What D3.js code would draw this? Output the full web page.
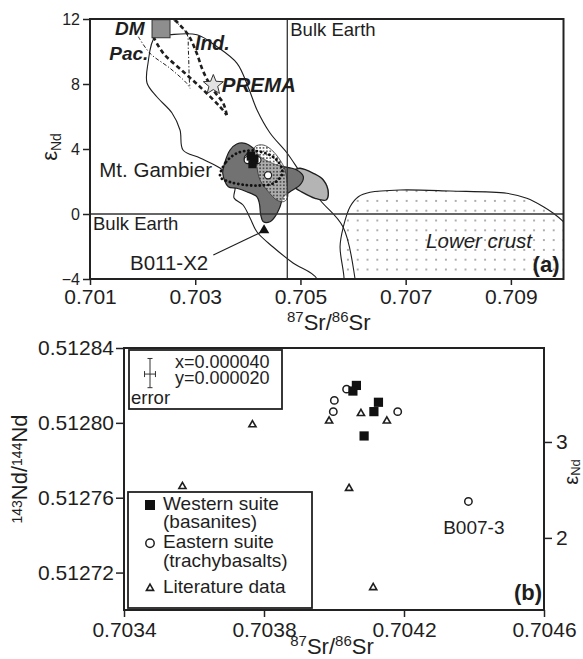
<!DOCTYPE html>
<html><head><meta charset="utf-8">
<script src="https://cdn.jsdelivr.net/npm/d3@7"></script>
<style>
body{margin:0;background:#fff}
svg{display:block}
text{font-family:"Liberation Sans",Arial,Helvetica,sans-serif;fill:#1e1e1e}
</style>
</head><body>
<svg id="c" width="583" height="659"></svg>
<script>
// ---------------- DATA ----------------
// Panel (b): 87Sr/86Sr vs 143Nd/144Nd
const westernSr = [0.704064, 0.704054, 0.704127, 0.704114, 0.704086];
const westernNd = [0.512820, 0.512817, 0.512811, 0.512806, 0.512793];
const easternSr = [0.704036, 0.704001, 0.703998, 0.704182, 0.704384];
const easternNd = [0.512818, 0.512812, 0.512806, 0.512806, 0.512758];
const literatureSr = [0.703986, 0.704077, 0.704151, 0.704043, 0.704112, 0.703767, 0.703567];
const literatureNd = [0.512801, 0.512805, 0.512801, 0.512765, 0.512712, 0.512799, 0.512766];
const CHUR = 0.512636;
const errX = 0.000040, errY = 0.000020;
const errCenter = [0.7034743, 0.5128266];
const b0073Label = [0.704312, 0.5127404];

// Panel (a): fields in (87Sr/86Sr, eNd)
const srTicksA = [0.701, 0.703, 0.705, 0.707, 0.709];
const epsTicksA = [-4, 0, 4, 8, 12];
const srTicksB = [0.7034, 0.7038, 0.7042, 0.7046];
const ndTicksB = [0.51272, 0.51276, 0.51280, 0.51284];
const epsTicksB = [2, 3];
const bulkEarthSr = 0.70475, bulkEarthEps = 0;
const dmPoint = [0.70235, 11.4];
const premaPoint = [0.703344, 7.94];
const b011X2 = [0.704308, -1.0];
const b011Pointer = [[0.703344, -2.523], [0.704232, -1.15]];

const oceanicField = [
  [0.702521,11.034],[0.703034,11.03],[0.703414,10.295],[0.703795,9.274],[0.704004,7.834],
  [0.704175,6.4],[0.704422,4.985],[0.704745,3.754],[0.704992,2.585],[0.705373,0.862],
  [0.705810,-0.8],[0.706038,-4.0],[0.706095,-6.0],[0.705316,-6.0],[0.705316,-4.0],
  [0.704859,-3.015],[0.704479,-2.03],[0.704175,-1.108],[0.704042,-0.246],[0.703909,0.554],
  [0.703738,0.985],[0.703757,1.662],[0.703624,2.4],[0.703471,2.831],[0.703091,3.446],
  [0.702768,3.938],[0.702711,5.169],[0.702559,6.215],[0.702274,7.2],[0.702084,8.062],
  [0.702103,9.292],[0.702236,10.892]
];
const lowerCrustField = [
  [0.705829,-6.0],[0.705829,-3.957],[0.705753,-2.012],[0.705816,-0.782],[0.705943,0.449],
  [0.706101,1.065],[0.706323,1.335],[0.706894,1.477],[0.707844,1.415],[0.708922,1.274],
  [0.709302,0.966],[0.709618,0.449],[0.709808,0.043],[0.709998,-0.474],[0.710316,-1.6],
  [0.710316,-6.0]
];
const gambierField = [
  [0.703523,2.505],[0.703567,3.218],[0.703662,3.938],[0.703789,4.308],[0.703947,4.351],
  [0.704105,4.043],[0.704232,3.526],[0.704549,3.015],[0.704930,2.708],[0.705055,2.295],
  [0.704992,1.785],[0.704802,1.372],[0.704675,1.065],[0.704612,0.449],[0.704517,-0.166],
  [0.704422,-0.474],[0.704295,-0.474],[0.704245,-0.062],[0.704219,0.658],[0.704169,1.065],
  [0.703979,1.372],[0.703789,1.582],[0.703629,1.68]
];
const lightField = [
  [0.704612,2.708],[0.704859,2.708],[0.704992,2.812],[0.705245,2.505],[0.705435,2.092],
  [0.705530,1.274],[0.705487,0.862],[0.705278,0.966],[0.704992,1.415],[0.704802,1.785],
  [0.704612,2.0]
];
const stippleField = [
  [0.704137,4.142],[0.704295,4.246],[0.704454,3.938],[0.704612,3.323],[0.704707,2.708],
  [0.704751,1.68],[0.704751,0.966],[0.704675,0.757],[0.704549,0.862],[0.704390,1.372],
  [0.704232,2.092],[0.704169,2.911],[0.704124,3.631]
];
const dottedField = [
  [0.703471,2.4],[0.703586,3.2],[0.703789,3.735],[0.704042,3.908],[0.704232,3.834],
  [0.704422,3.631],[0.704549,3.323],[0.704645,2.831],[0.704645,2.4],[0.704485,1.889],
  [0.704232,1.754],[0.703947,1.785],[0.703662,1.969],[0.703490,2.215]
];
const indLineA = [[0.702616,11.94],[0.702869,11.015],[0.703029,9.889],[0.703154,8.757],[0.703344,7.631],[0.703534,6.812],[0.703599,6.092]];
const indLineB = [[0.702203,10.911],[0.702394,9.889],[0.702774,8.757],[0.703154,7.631],[0.703471,6.603],[0.703599,6.092]];
const pacLineA = [[0.701918,10.911],[0.702141,9.889],[0.702521,8.966],[0.702838,8.043],[0.702901,7.735]];
const pacLineB = [[0.702584,11.94],[0.702838,11.12],[0.702869,10.092],[0.702888,8.246],[0.702901,7.735]];

// ---------------- LAYOUT ----------------
const A = {l:90, r:563.5, t:19, b:279};
const B = {l:124, r:544, t:348, b:610};
const svg = d3.select("#c");
const ink = "#1e1e1e";

const xA = d3.scaleLinear().domain([0.701, 0.710]).range([A.l, A.r]);
const yA = d3.scaleLinear().domain([-4, 12]).range([A.b, A.t]);
const xB = d3.scaleLinear().domain([0.7034, 0.7046]).range([B.l, B.r]);
const yB = d3.scaleLinear().domain([0.51270, 0.51284]).range([B.b, B.t]);
const eps = nd => (nd / CHUR - 1) * 1e4;
const yE = d3.scaleLinear().domain([eps(0.51270), eps(0.51284)]).range([B.b, B.t]);

const defs = svg.append("defs");
defs.append("clipPath").attr("id","clipA").append("rect")
  .attr("x",A.l).attr("y",A.t).attr("width",A.r-A.l).attr("height",A.b-A.t);
const ps = defs.append("pattern").attr("id","dotsSparse").attr("patternUnits","userSpaceOnUse")
  .attr("width",9.8).attr("height",9.8);
ps.append("rect").attr("width",9.8).attr("height",9.8).attr("fill","#fff");
ps.append("circle").attr("cx",4.9).attr("cy",4.9).attr("r",0.75).attr("fill","#333");
const pd = defs.append("pattern").attr("id","dotsDense").attr("patternUnits","userSpaceOnUse")
  .attr("width",3.4).attr("height",3.4);
pd.append("circle").attr("cx",1.7).attr("cy",1.7).attr("r",0.75).attr("fill","#222");

const closedA = d3.line().x(d=>xA(d[0])).y(d=>yA(d[1])).curve(d3.curveCatmullRomClosed.alpha(0.5));
const openA = d3.line().x(d=>xA(d[0])).y(d=>yA(d[1])).curve(d3.curveCatmullRom.alpha(0.5));

// ---------------- PANEL (a) ----------------
const gA = svg.append("g");
const plotA = gA.append("g").attr("clip-path","url(#clipA)");

plotA.append("path").attr("d", closedA(lowerCrustField))
  .attr("fill","url(#dotsSparse)").attr("stroke",ink).attr("stroke-width",1.1);
plotA.append("path").attr("d", closedA(oceanicField))
  .attr("fill","none").attr("stroke",ink).attr("stroke-width",1.1);
plotA.append("path").attr("d", closedA(lightField))
  .attr("fill","#b4b4b4").attr("stroke",ink).attr("stroke-width",1.4);
plotA.append("path").attr("d", closedA(gambierField))
  .attr("fill","#727272").attr("stroke",ink).attr("stroke-width",1.2);
plotA.append("path").attr("d", closedA(stippleField))
  .attr("fill","rgba(255,255,255,0.42)").attr("stroke","none");
plotA.append("path").attr("d", closedA(stippleField))
  .attr("fill","url(#dotsDense)").attr("stroke","#333").attr("stroke-width",0.8);
plotA.append("path").attr("d", closedA(dottedField))
  .attr("fill","none").attr("stroke","#111").attr("stroke-width",2.8)
  .attr("stroke-dasharray","0.1 4.2").attr("stroke-linecap","round");

// Bulk Earth lines
plotA.append("line").attr("x1",xA(bulkEarthSr)).attr("x2",xA(bulkEarthSr)).attr("y1",A.t).attr("y2",A.b)
  .attr("stroke","#333").attr("stroke-width",1.3);
plotA.append("line").attr("x1",A.l).attr("x2",A.r).attr("y1",yA(bulkEarthEps)).attr("y2",yA(bulkEarthEps))
  .attr("stroke","#333").attr("stroke-width",1.3);

// DM - Pac / Ind lines
[pacLineA, pacLineB].forEach(l => plotA.append("path").attr("d", openA(l)).attr("fill","none")
  .attr("stroke",ink).attr("stroke-width",1).attr("stroke-dasharray","4 2 1.2 2"));
[indLineA, indLineB].forEach(l => plotA.append("path").attr("d", openA(l)).attr("fill","none")
  .attr("stroke",ink).attr("stroke-width",2.6).attr("stroke-dasharray","4.5 3"));

// DM square
plotA.append("rect").attr("x",xA(dmPoint[0])-9).attr("y",yA(dmPoint[1])-9).attr("width",18).attr("height",18)
  .attr("fill","#8e8e8e").attr("stroke","#333").attr("stroke-width",1);
// PREMA star
function starPath(R, r){
  const pts=[];
  for(let i=0;i<10;i++){const a=-Math.PI/2+i*Math.PI/5;const rr=i%2?r:R;pts.push([rr*Math.cos(a),rr*Math.sin(a)]);}
  return "M"+pts.map(p=>p.join(",")).join("L")+"Z";
}
plotA.append("path").attr("d",starPath(10.5,4.6))
  .attr("transform",`translate(${xA(premaPoint[0])},${yA(premaPoint[1])})`)
  .attr("fill","#e2e2e2").attr("stroke","#333").attr("stroke-width",1);

// Samples in panel (a)
easternSr.forEach((s,i)=>plotA.append("circle").attr("cx",xA(s)).attr("cy",yA(eps(easternNd[i]))).attr("r",3.6)
  .attr("fill","#fff").attr("stroke",ink).attr("stroke-width",1.2));
westernSr.forEach((s,i)=>plotA.append("rect").attr("x",xA(s)-4).attr("y",yA(eps(westernNd[i]))-4).attr("width",8).attr("height",8)
  .attr("fill","#111"));
// B011-X2
plotA.append("line").attr("x1",xA(b011Pointer[0][0])).attr("y1",yA(b011Pointer[0][1]))
  .attr("x2",xA(b011Pointer[1][0])).attr("y2",yA(b011Pointer[1][1])).attr("stroke",ink).attr("stroke-width",1.1);
plotA.append("path").attr("d",d3.symbol(d3.symbolTriangle,48)())
  .attr("transform",`translate(${xA(b011X2[0])},${yA(b011X2[1])})`).attr("fill","#111");

// Annotations (a)
function txt(g,x,y,s,size,opts={}){
  const t=g.append("text").attr("x",x).attr("y",y).attr("font-size",size).text(s);
  if(opts.weight) t.attr("font-weight",opts.weight);
  if(opts.style) t.attr("font-style",opts.style);
  if(opts.anchor) t.attr("text-anchor",opts.anchor);
  return t;
}
txt(gA, xA(bulkEarthSr)+3, A.t+17, "Bulk Earth", 18.5);
txt(gA, A.l+3, yA(bulkEarthEps)+16, "Bulk Earth", 18.5);
txt(gA, xA(0.701177), yA(2.295), "Mt. Gambier", 20.5);
txt(gA, xA(0.70176), yA(-3.446), "B011-X2", 20.5);
txt(gA, xA(0.707388), yA(-2.111), "Lower crust", 20.5, {style:"italic"});
txt(gA, A.r-4, A.b-7, "(a)", 22, {weight:"bold", anchor:"end"});
txt(gA, xA(0.701475), yA(11.015), "DM", 19, {weight:"bold", style:"italic"});
txt(gA, xA(0.701367), yA(9.477), "Pac.", 19, {weight:"bold", style:"italic"});
txt(gA, xA(0.702996), yA(10.092), "Ind.", 19.5, {weight:"bold", style:"italic"});
txt(gA, xA(0.703504), yA(7.526), "PREMA", 20.5, {weight:"bold", style:"italic"});

// Frame + axes (a)
gA.append("rect").attr("x",A.l).attr("y",A.t).attr("width",A.r-A.l).attr("height",A.b-A.t)
  .attr("fill","none").attr("stroke","#222").attr("stroke-width",2);
const axA1 = gA.append("g").attr("transform",`translate(0,${A.b})`)
  .call(d3.axisBottom(xA).tickValues(srTicksA).tickFormat(d3.format(".3f")).tickSize(6).tickPadding(4));
const axA2 = gA.append("g").attr("transform",`translate(${A.l},0)`)
  .call(d3.axisLeft(yA).tickValues(epsTicksA).tickFormat(d3.format("d")).tickSize(7).tickPadding(3));
[axA1,axA2].forEach(a=>{a.select(".domain").remove();a.attr("font-family",null);a.selectAll("line").attr("stroke","#222").attr("stroke-width",1.5);a.selectAll("text").attr("fill","#1e1e1e");});
axA1.attr("font-size",21); axA2.attr("font-size",16);

// axis titles (a)
const tA = gA.append("text").attr("x",(A.l+A.r)/2+2).attr("y",330).attr("text-anchor","middle").attr("font-size",22);
tA.append("tspan").attr("font-size",15).attr("dy",-8).text("87");
tA.append("tspan").attr("dy",8).text("Sr/");
tA.append("tspan").attr("font-size",15).attr("dy",-8).text("86");
tA.append("tspan").attr("dy",8).text("Sr");
const eA = gA.append("text").attr("transform","translate(57,147) rotate(-90)").attr("text-anchor","middle").attr("font-size",22);
eA.append("tspan").text("ε");
eA.append("tspan").attr("font-size",14).attr("dy",4).text("Nd");

// ---------------- PANEL (b) ----------------
const gB = svg.append("g");
gB.append("rect").attr("x",B.l).attr("y",B.t).attr("width",B.r-B.l).attr("height",B.b-B.t)
  .attr("fill","none").attr("stroke","#222").attr("stroke-width",2);

// error legend box
gB.append("rect").attr("x",129).attr("y",350).attr("width",153).attr("height",59)
  .attr("fill","#fff").attr("stroke","#222").attr("stroke-width",1.8);
const ex = xB(errCenter[0]), ey = yB(errCenter[1]);
const hx = xB(errCenter[0]+errX*0.39)-ex, hy = ey-yB(errCenter[1]+errY*0.39);
const eb = gB.append("g").attr("stroke","#333").attr("stroke-width",1);
eb.append("line").attr("x1",ex).attr("x2",ex).attr("y1",ey-hy).attr("y2",ey+hy);
eb.append("line").attr("x1",ex-2.5).attr("x2",ex+2.5).attr("y1",ey-hy).attr("y2",ey-hy);
eb.append("line").attr("x1",ex-2.5).attr("x2",ex+2.5).attr("y1",ey+hy).attr("y2",ey+hy);
eb.append("line").attr("x1",ex-hx).attr("x2",ex+hx).attr("y1",ey+1).attr("y2",ey+1);
eb.append("line").attr("x1",ex-hx).attr("x2",ex-hx).attr("y1",ey-2).attr("y2",ey+4);
eb.append("line").attr("x1",ex+hx).attr("x2",ex+hx).attr("y1",ey-2).attr("y2",ey+4);
txt(gB,175,368,"x="+errX.toFixed(6),18);
txt(gB,175,384,"y="+errY.toFixed(6),18);
txt(gB,131,404,"error",18.5);

// symbols legend
const LG = {x:128, y:492, w:184, h:116};
gB.append("rect").attr("x",LG.x).attr("y",LG.y).attr("width",LG.w).attr("height",LG.h)
  .attr("fill","#fff").attr("stroke","#222").attr("stroke-width",1.8);
const legendLabels = [["Western suite","(basanites)"],["Eastern suite","(trachybasalts)"],["Literature data"]];
const legendRows = [13, 51.3, 96.3];
gB.append("rect").attr("x",LG.x+22-5).attr("y",LG.y+legendRows[0]-5).attr("width",10).attr("height",10).attr("fill","#111");
gB.append("circle").attr("cx",LG.x+22).attr("cy",LG.y+legendRows[1]).attr("r",4.2).attr("fill","#fff").attr("stroke",ink).attr("stroke-width",1.5);
gB.append("path").attr("d",d3.symbol(d3.symbolTriangle,22)()).attr("transform",`translate(${LG.x+22},${LG.y+legendRows[2]})`)
  .attr("fill","#fff").attr("stroke",ink).attr("stroke-width",1.6);
legendLabels.forEach((lab,i)=>lab.forEach((s,j)=>txt(gB,LG.x+35,LG.y+legendRows[i]+5+j*18.3,s,19)));

// data marks (b)
literatureSr.forEach((s,i)=>gB.append("path").attr("d",d3.symbol(d3.symbolTriangle,22)())
  .attr("transform",`translate(${xB(s)},${yB(literatureNd[i])})`).attr("fill","#fff").attr("stroke",ink).attr("stroke-width",1.6));
easternSr.forEach((s,i)=>gB.append("circle").attr("cx",xB(s)).attr("cy",yB(easternNd[i])).attr("r",3.7)
  .attr("fill","#fff").attr("stroke",ink).attr("stroke-width",1.5));
westernSr.forEach((s,i)=>gB.append("rect").attr("x",xB(s)-4.6).attr("y",yB(westernNd[i])-4.6).attr("width",9.2).attr("height",9.2)
  .attr("fill","#111"));
txt(gB, xB(b0073Label[0]), yB(b0073Label[1]), "B007-3", 19);
txt(gB, B.r-2, B.b-10, "(b)", 22, {weight:"bold", anchor:"end"});

// axes (b)
const axB1 = gB.append("g").attr("transform",`translate(0,${B.b})`)
  .call(d3.axisBottom(xB).tickValues(srTicksB).tickFormat(d3.format(".4f")).tickSize(7).tickPadding(5));
const axB2 = gB.append("g").attr("transform",`translate(${B.l},0)`)
  .call(d3.axisLeft(yB).tickValues(ndTicksB).tickFormat(d3.format(".5f")).tickSize(8).tickPadding(2));
const axB3 = gB.append("g").attr("transform",`translate(${B.r},0)`)
  .call(d3.axisRight(yE).tickValues(epsTicksB).tickFormat(d3.format("d")).tickSize(8).tickPadding(4));
[axB1,axB2,axB3].forEach(a=>{a.select(".domain").remove();a.attr("font-family",null).attr("font-size",21);a.selectAll("line").attr("stroke","#222").attr("stroke-width",1.5);a.selectAll("text").attr("fill","#1e1e1e");});

const tB = gB.append("text").attr("x",332).attr("y",654).attr("text-anchor","middle").attr("font-size",22);
tB.append("tspan").attr("font-size",15).attr("dy",-8).text("87");
tB.append("tspan").attr("dy",8).text("Sr/");
tB.append("tspan").attr("font-size",15).attr("dy",-8).text("86");
tB.append("tspan").attr("dy",8).text("Sr");
const yLab = gB.append("text").attr("transform","translate(27,469) rotate(-90)").attr("text-anchor","middle").attr("font-size",22);
yLab.append("tspan").attr("font-size",14).attr("dy",-5).text("143");
yLab.append("tspan").attr("dy",5).text("Nd/");
yLab.append("tspan").attr("font-size",14).attr("dy",-5).text("144");
yLab.append("tspan").attr("dy",5).text("Nd");
const eB = gB.append("text").attr("transform","translate(578,472) rotate(-90)").attr("text-anchor","middle").attr("font-size",20);
eB.append("tspan").text("ε");
eB.append("tspan").attr("font-size",13).attr("dy",2).text("Nd");
</script>
</body></html>
